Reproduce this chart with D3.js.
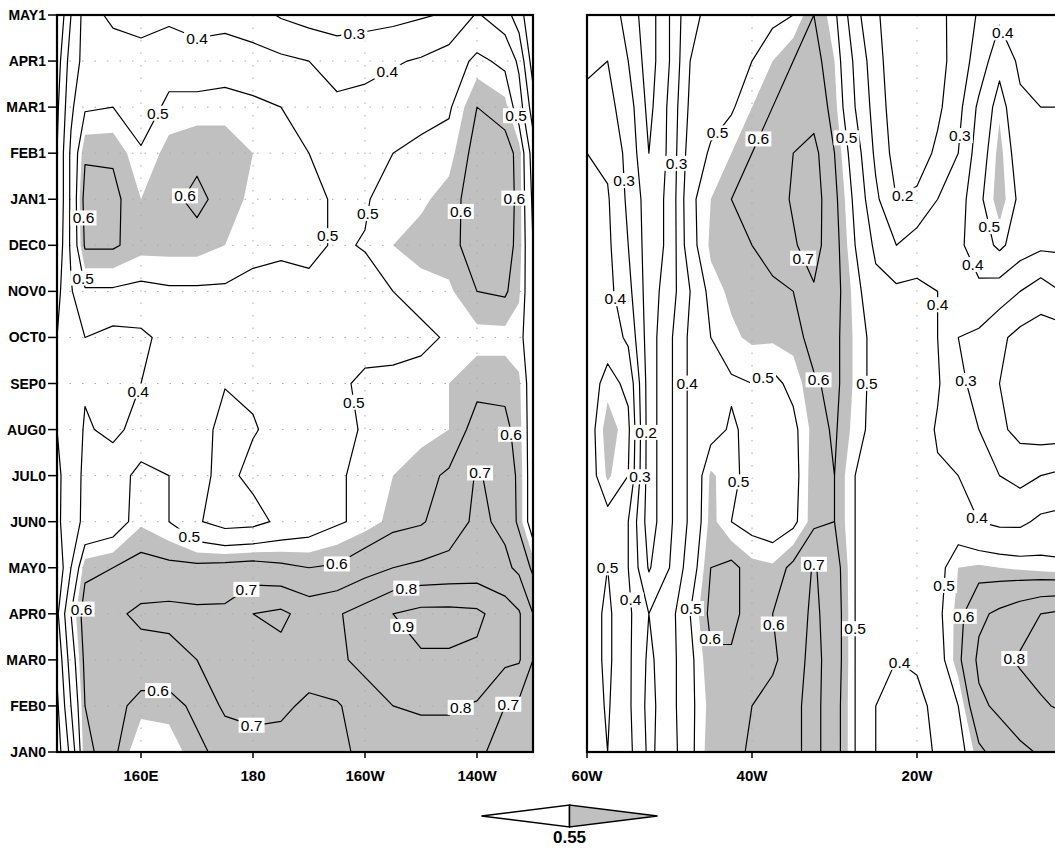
<!DOCTYPE html>
<html>
<head>
<meta charset="utf-8">
<script src="https://cdn.jsdelivr.net/npm/d3@7"></script>
<style>
  body { margin: 0; background: #fff; }
  svg { display: block; }
</style>
</head>
<body>
<div id="chart"></div>
<script>
// Month labels on the time axis (bottom to top)
const months = ["JAN0","FEB0","MAR0","APR0","MAY0","JUN0","JUL0","AUG0","SEP0","OCT0","NOV0","DEC0","JAN1","FEB1","MAR1","APR1","MAY1"];

// Longitudes of the grid columns (degrees east, west negative)
const pacLon = [145, 147.5, 150, 155, 160, 165, 170, 175, 180, 185, 190, 195, 200, 205, 210, 215, 220, 225, 227.5, 230];
const atlLon = [-60, -57.5, -55, -52.5, -50, -47.5, -45, -42.5, -40, -37.5, -35, -32.5, -30, -27.5, -25, -22.5, -20, -17.5, -15, -12.5, -10, -7.5, -5, -2.5, 0];

const pacTicks = [160, 180, 200, 220];
const pacTickLabels = ["160E", "180", "160W", "140W"];
const atlTicks = [-60, -40, -20];
const atlTickLabels = ["60W", "40W", "20W"];

const levels = [0.1, 0.2, 0.3, 0.4, 0.5, 0.6, 0.7, 0.8, 0.9];
const shadeLevel = 0.55;

// Pacific panel, one row per month (JAN0 first)
const pacific = [
  [0.15,0.33,0.59,0.62,0.50,0.52,0.58,0.63,0.66,0.66,0.67,0.68,0.72,0.74,0.76,0.76,0.72,0.66,0.65,0.60],
  [0.18,0.40,0.60,0.63,0.57,0.57,0.62,0.72,0.73,0.72,0.68,0.69,0.75,0.80,0.81,0.81,0.79,0.70,0.68,0.60],
  [0.22,0.45,0.62,0.65,0.66,0.66,0.70,0.73,0.76,0.77,0.75,0.78,0.83,0.89,0.89,0.89,0.88,0.82,0.81,0.70],
  [0.28,0.50,0.64,0.68,0.72,0.73,0.72,0.72,0.80,0.82,0.76,0.79,0.84,0.90,0.93,0.93,0.92,0.85,0.81,0.70],
  [0.22,0.40,0.58,0.60,0.63,0.62,0.62,0.63,0.64,0.62,0.60,0.61,0.66,0.70,0.72,0.73,0.74,0.72,0.68,0.58],
  [0.28,0.36,0.42,0.45,0.54,0.50,0.41,0.36,0.37,0.42,0.45,0.49,0.52,0.57,0.59,0.65,0.72,0.68,0.58,0.45],
  [0.28,0.35,0.42,0.45,0.53,0.50,0.42,0.38,0.42,0.44,0.46,0.49,0.52,0.55,0.58,0.61,0.71,0.66,0.58,0.45],
  [0.30,0.34,0.41,0.38,0.43,0.46,0.42,0.385,0.395,0.42,0.44,0.47,0.51,0.53,0.53,0.55,0.63,0.62,0.57,0.45],
  [0.30,0.33,0.39,0.37,0.40,0.44,0.45,0.402,0.41,0.43,0.45,0.48,0.52,0.52,0.53,0.55,0.58,0.58,0.56,0.45],
  [0.30,0.35,0.40,0.37,0.38,0.43,0.45,0.45,0.45,0.45,0.45,0.45,0.46,0.47,0.48,0.51,0.53,0.53,0.52,0.45],
  [0.27,0.39,0.49,0.49,0.48,0.49,0.49,0.49,0.48,0.48,0.48,0.47,0.47,0.50,0.53,0.54,0.60,0.61,0.56,0.42],
  [0.22,0.42,0.61,0.61,0.57,0.57,0.57,0.55,0.52,0.51,0.52,0.49,0.505,0.55,0.57,0.58,0.63,0.63,0.58,0.40],
  [0.20,0.42,0.63,0.62,0.55,0.58,0.62,0.57,0.54,0.53,0.52,0.49,0.49,0.545,0.54,0.57,0.64,0.64,0.58,0.38],
  [0.20,0.42,0.59,0.59,0.51,0.57,0.58,0.58,0.55,0.52,0.50,0.46,0.46,0.50,0.52,0.53,0.63,0.63,0.58,0.35],
  [0.18,0.38,0.49,0.50,0.45,0.52,0.53,0.53,0.52,0.50,0.46,0.42,0.43,0.45,0.47,0.49,0.60,0.57,0.45,0.25],
  [0.15,0.35,0.43,0.45,0.43,0.46,0.44,0.46,0.44,0.42,0.40,0.36,0.37,0.39,0.41,0.45,0.52,0.48,0.38,0.15],
  [0.10,0.30,0.44,0.38,0.37,0.38,0.36,0.36,0.34,0.29,0.26,0.25,0.26,0.27,0.29,0.31,0.41,0.34,0.25,0.10]
];

// Atlantic panel, one row per month (JAN0 first)
const atlantic = [
  [0.45,0.50,0.43,0.28,0.35,0.48,0.58,0.58,0.61,0.65,0.68,0.73,0.64,0.50,0.40,0.37,0.37,0.41,0.46,0.58,0.64,0.68,0.71,0.72,0.72],
  [0.45,0.51,0.42,0.27,0.36,0.48,0.57,0.58,0.60,0.64,0.68,0.73,0.64,0.50,0.40,0.38,0.38,0.42,0.50,0.68,0.72,0.76,0.79,0.81,0.81],
  [0.45,0.52,0.42,0.28,0.36,0.48,0.59,0.59,0.57,0.58,0.66,0.73,0.65,0.50,0.43,0.40,0.41,0.46,0.58,0.72,0.78,0.81,0.83,0.84,0.84],
  [0.45,0.52,0.42,0.30,0.36,0.50,0.62,0.62,0.57,0.60,0.65,0.72,0.65,0.50,0.46,0.45,0.45,0.48,0.57,0.68,0.72,0.76,0.80,0.82,0.82],
  [0.45,0.50,0.40,0.19,0.30,0.45,0.60,0.62,0.57,0.56,0.62,0.71,0.64,0.50,0.48,0.47,0.47,0.47,0.55,0.56,0.55,0.54,0.53,0.52,0.52],
  [0.45,0.47,0.40,0.15,0.28,0.42,0.57,0.50,0.47,0.45,0.48,0.58,0.60,0.50,0.47,0.46,0.46,0.43,0.45,0.40,0.38,0.38,0.42,0.43,0.43],
  [0.45,0.56,0.50,0.15,0.28,0.42,0.56,0.52,0.47,0.44,0.47,0.58,0.60,0.50,0.47,0.46,0.45,0.41,0.40,0.35,0.30,0.27,0.30,0.32,0.32],
  [0.45,0.58,0.52,0.15,0.28,0.42,0.47,0.51,0.48,0.45,0.48,0.57,0.61,0.53,0.47,0.46,0.45,0.39,0.35,0.30,0.22,0.17,0.15,0.15,0.15],
  [0.45,0.53,0.48,0.15,0.28,0.42,0.45,0.49,0.50,0.48,0.52,0.59,0.62,0.54,0.47,0.46,0.45,0.41,0.32,0.27,0.20,0.15,0.12,0.12,0.12],
  [0.43,0.46,0.38,0.15,0.28,0.42,0.50,0.54,0.56,0.56,0.57,0.63,0.62,0.54,0.47,0.46,0.45,0.40,0.30,0.28,0.22,0.17,0.15,0.15,0.15],
  [0.43,0.43,0.33,0.15,0.25,0.40,0.53,0.56,0.57,0.58,0.60,0.69,0.63,0.53,0.43,0.42,0.42,0.40,0.35,0.38,0.35,0.30,0.25,0.30,0.30],
  [0.42,0.42,0.30,0.15,0.22,0.47,0.56,0.58,0.60,0.64,0.69,0.74,0.63,0.50,0.38,0.30,0.35,0.38,0.38,0.45,0.52,0.45,0.42,0.42,0.42],
  [0.42,0.41,0.28,0.15,0.22,0.48,0.55,0.60,0.62,0.66,0.71,0.75,0.62,0.48,0.32,0.20,0.22,0.30,0.35,0.48,0.58,0.48,0.45,0.45,0.45],
  [0.40,0.38,0.27,0.10,0.22,0.45,0.51,0.55,0.60,0.65,0.70,0.73,0.60,0.45,0.28,0.16,0.15,0.22,0.30,0.45,0.57,0.45,0.42,0.42,0.42],
  [0.33,0.33,0.25,0.07,0.22,0.42,0.47,0.49,0.55,0.60,0.64,0.66,0.57,0.40,0.26,0.14,0.12,0.18,0.27,0.42,0.54,0.42,0.40,0.40,0.40],
  [0.28,0.30,0.20,0.05,0.20,0.40,0.44,0.46,0.50,0.55,0.60,0.63,0.55,0.38,0.24,0.13,0.12,0.16,0.25,0.34,0.47,0.38,0.38,0.38,0.38],
  [0.27,0.28,0.15,0.05,0.20,0.38,0.42,0.44,0.46,0.48,0.50,0.60,0.52,0.33,0.22,0.12,0.12,0.17,0.24,0.31,0.38,0.34,0.35,0.35,0.35]
];

const width = 1055, height = 848;
const yTop = 15, yBottom = 752;

const svg = d3.select("#chart")
  .append("svg")
    .attr("width", width)
    .attr("height", height)
    .style("font-family", "'Liberation Sans', Arial, sans-serif");

const y = d3.scaleLinear().domain([0, months.length - 1]).range([yBottom, yTop]);
const xPac = d3.scaleLinear().domain([145, 230]).range([57, 533]);
const xAtl = d3.scaleLinear().domain([-60, 0]).range([587, 1082]);

const placed = [];   // label boxes already used

function drawPanel(id, lon, rows, x, ticks, tickLabels, withMonths) {
  const n = lon.length, m = rows.length;
  const lonAt = d3.scaleLinear().domain(d3.range(n)).range(lon);
  const clampN = (c, k) => Math.max(0, Math.min(k - 1, c - 0.5));
  const px = c => x(lonAt(clampN(c, n)));
  const py = c => y(clampN(c, m));
  const path = d3.geoPath(d3.geoTransform({
    point(a, b) { this.stream.point(px(a), py(b)); }
  }));
  const values = rows.flat();
  const [x0, x1] = x.range();

  const g = svg.append("g");
  g.append("clipPath").attr("id", "clip-" + id)
    .append("rect")
      .attr("x", x0).attr("y", yTop)
      .attr("width", x1 - x0).attr("height", yBottom - yTop);
  const inner = g.append("g").attr("clip-path", `url(#clip-${id})`);

  // shading above 0.55
  inner.selectAll(".shade")
    .data(d3.contours().size([n, m]).thresholds([shadeLevel])(values))
    .join("path")
      .attr("class", "shade")
      .attr("d", path)
      .attr("fill", "#c0c0c0");

  // dotted grid
  inner.selectAll(".vgrid")
    .data(ticks.filter(t => x(t) > x0 + 1))
    .join("line")
      .attr("class", "vgrid")
      .attr("x1", d => x(d)).attr("x2", d => x(d))
      .attr("y1", yTop).attr("y2", yBottom)
      .attr("stroke", "#aaa").attr("stroke-width", 1)
      .attr("stroke-dasharray", "1.5,11");
  if (withMonths) {
    inner.selectAll(".hgrid")
      .data(d3.range(1, months.length - 1))
      .join("line")
        .attr("class", "hgrid")
        .attr("x1", x0).attr("x2", x1)
        .attr("y1", d => y(d)).attr("y2", d => y(d))
        .attr("stroke", "#aaa").attr("stroke-width", 1)
        .attr("stroke-dasharray", "1.5,11");
  }

  // contour lines
  const iso = d3.contours().size([n, m]).thresholds(levels)(values);
  inner.selectAll(".iso")
    .data(iso)
    .join("path")
      .attr("class", "iso")
      .attr("d", path)
      .attr("fill", "none")
      .attr("stroke", "#000")
      .attr("stroke-width", 1.2)
      .attr("stroke-linejoin", "round");

  // contour labels: split rings into pieces that are not on the frame
  const xr = Math.min(x1, width);
  const onEdge = (a, b) => {
    const e = 0.6;
    return (Math.abs(a[0] - x0) < e && Math.abs(b[0] - x0) < e) ||
           (Math.abs(a[0] - x1) < e && Math.abs(b[0] - x1) < e) ||
           (Math.abs(a[1] - yTop) < e && Math.abs(b[1] - yTop) < e) ||
           (Math.abs(a[1] - yBottom) < e && Math.abs(b[1] - yBottom) < e);
  };
  const candidates = [];
  iso.forEach(c => {
    c.coordinates.forEach(poly => poly.forEach(ring => {
      const pts = ring.map(p => [px(p[0]), py(p[1])]);
      const k = pts.length - 1;
      let start = 0;
      for (let i = 0; i < k; i++) if (onEdge(pts[i], pts[i + 1])) { start = i + 1; break; }
      let run = [];
      const runs = [];
      for (let j = 0; j < k; j++) {
        const a = pts[(start + j) % k], b = pts[(start + j + 1) % k];
        if (onEdge(a, b)) { if (run.length > 1) runs.push(run); run = []; continue; }
        if (!run.length) run.push(a);
        run.push(b);
      }
      if (run.length > 1) runs.push(run);
      runs.forEach(r => {
        const cum = [0];
        for (let i = 1; i < r.length; i++)
          cum.push(cum[i - 1] + Math.hypot(r[i][0] - r[i - 1][0], r[i][1] - r[i - 1][1]));
        const L = cum[cum.length - 1];
        if (L < 45) return;
        const cnt = Math.max(1, Math.round(L / 270));
        for (let q = 0; q < cnt; q++) {
          const s = (q + 0.5) * L / cnt;
          const i0 = Math.max(1, d3.bisectLeft(cum, s));
          const t = (s - cum[i0 - 1]) / ((cum[i0] - cum[i0 - 1]) || 1);
          const p = [r[i0 - 1][0] + t * (r[i0][0] - r[i0 - 1][0]),
                     r[i0 - 1][1] + t * (r[i0][1] - r[i0 - 1][1])];
          candidates.push({ v: c.value, p, L });
        }
      });
    }));
  });
  candidates.sort((a, b) => b.L - a.L);
  const lab = inner.append("g");
  candidates.forEach(cd => {
    const w = 26, h = 15;
    const bx = cd.p[0] - w / 2, by = cd.p[1] - h / 2;
    if (bx < x0 + 2 || bx + w > xr - 2 || by < yTop + 2 || by + h > yBottom - 2) return;
    const pad = 14;
    if (placed.some(b => bx < b.x + b.w + pad && bx + w + pad > b.x && by < b.y + b.h + pad && by + h + pad > b.y)) return;
    placed.push({ x: bx, y: by, w, h });
    const lg = lab.append("g");
    lg.append("rect").attr("x", bx).attr("y", by).attr("width", w).attr("height", h).attr("fill", "#fff");
    lg.append("text")
      .attr("x", cd.p[0]).attr("y", cd.p[1] + 5.5)
      .attr("text-anchor", "middle")
      .attr("font-size", 15.5)
      .text(d3.format(".1f")(cd.v));
  });

  // frame
  g.append("rect")
    .attr("x", x0).attr("y", yTop)
    .attr("width", x1 - x0).attr("height", yBottom - yTop)
    .attr("fill", "none").attr("stroke", "#000").attr("stroke-width", 2.2);

  // x ticks
  const xt = g.append("g");
  xt.selectAll("line").data(ticks).join("line")
    .attr("x1", d => x(d)).attr("x2", d => x(d))
    .attr("y1", yBottom).attr("y2", yBottom + 6)
    .attr("stroke", "#000").attr("stroke-width", 1.5);
  xt.selectAll("text").data(ticks).join("text")
    .attr("x", d => x(d)).attr("y", yBottom + 29)
    .attr("text-anchor", "middle")
    .attr("font-size", 15).attr("font-weight", "bold")
    .text((d, i) => tickLabels[i]);

  if (withMonths) {
    const yt = g.append("g");
    yt.selectAll("line").data(months).join("line")
      .attr("x1", x0 - 9).attr("x2", x0)
      .attr("y1", (d, i) => y(i)).attr("y2", (d, i) => y(i))
      .attr("stroke", "#000").attr("stroke-width", 1.5);
    yt.selectAll("text").data(months).join("text")
      .attr("x", x0 - 11).attr("y", (d, i) => y(i) + 5)
      .attr("text-anchor", "end")
      .attr("font-size", 14).attr("font-weight", "bold")
      .text(d => d);
  }
}

drawPanel("pac", pacLon, pacific, xPac, pacTicks, pacTickLabels, true);
drawPanel("atl", atlLon, atlantic, xAtl, atlTicks, atlTickLabels, false);

// shading key
const cx = (xPac.range()[0] + xAtl.range()[1]) / 2;
const key = d3.scaleLinear().domain([0, 1]).range([cx - 88, cx + 88]);
const keyY = 816, keyH = 11;
svg.append("path")
  .attr("d", `M${key(0)},${keyY} L${key(0.5)},${keyY - keyH} L${key(0.5)},${keyY + keyH} Z`)
  .attr("fill", "#fff").attr("stroke", "#000").attr("stroke-width", 1.5);
svg.append("path")
  .attr("d", `M${key(1)},${keyY} L${key(0.5)},${keyY - keyH} L${key(0.5)},${keyY + keyH} Z`)
  .attr("fill", "#c0c0c0").attr("stroke", "#000").attr("stroke-width", 1.5);
svg.append("text")
  .attr("x", key(0.5)).attr("y", keyY + 27)
  .attr("text-anchor", "middle")
  .attr("font-size", 17).attr("font-weight", "bold")
  .text(String(shadeLevel));
</script>
</body>
</html>
